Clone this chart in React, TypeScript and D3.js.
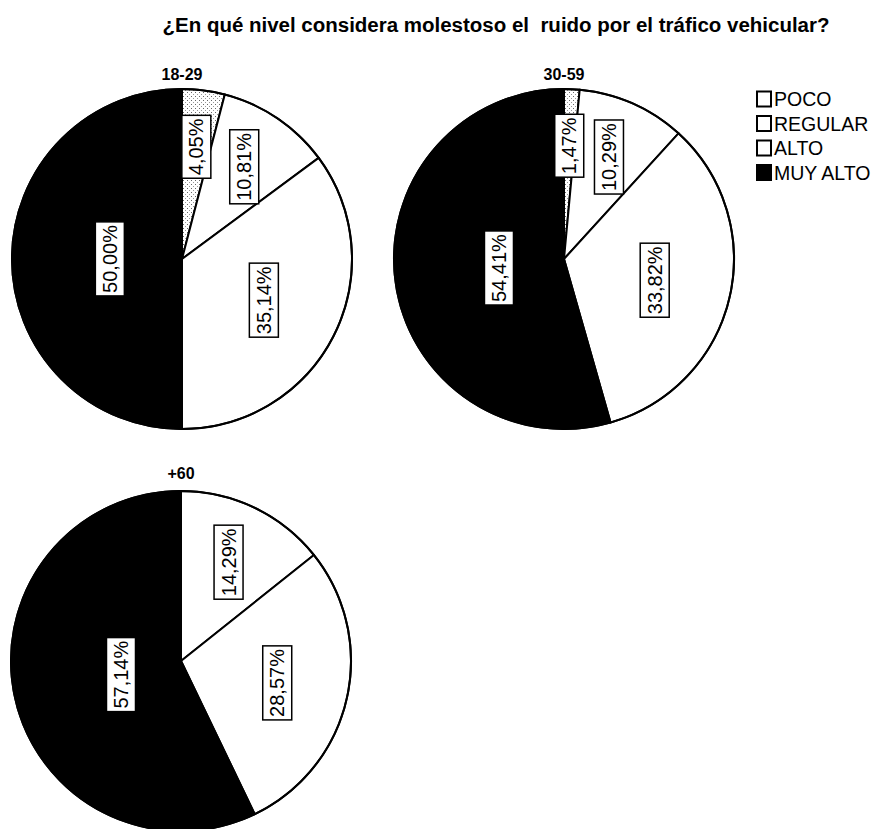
import React, { useEffect, useRef } from "react";
import * as d3 from "d3";

const title = "¿En qué nivel considera molestoso el  ruido por el tráfico vehicular?";
const categories = ["POCO", "REGULAR", "ALTO", "MUY ALTO"];
const groupNames = ["18-29", "30-59", "+60"];
const values1829 = [4.05, 10.81, 35.14, 50.0];
const values3059 = [1.47, 10.29, 33.82, 54.41];
const values60 = [0, 14.29, 28.57, 57.14];
const seriesValues = [values1829, values3059, values60];

const W = 882;
const H = 829;
const R = 170;
const centers: [number, number][] = [
  [182, 259],
  [564, 259],
  [181, 661],
];
const FONT = "'Liberation Sans', Arial, sans-serif";

const fmt = (v: number) => d3.format(".2f")(v).replace(".", ",") + "%";

export default function App() {
  const ref = useRef<SVGSVGElement | null>(null);

  useEffect(() => {
    const svg = d3.select(ref.current);
    svg.selectAll("*").remove();

    const defs = svg.append("defs");
    const pat = defs
      .append("pattern")
      .attr("id", "stipple")
      .attr("width", 4)
      .attr("height", 4)
      .attr("patternUnits", "userSpaceOnUse");
    pat.append("rect").attr("width", 4).attr("height", 4).attr("fill", "#fff");
    pat.append("rect").attr("x", 1).attr("y", 1).attr("width", 1).attr("height", 1).attr("fill", "#666");
    pat.append("rect").attr("x", 3).attr("y", 3).attr("width", 1).attr("height", 1).attr("fill", "#999");

    const color = d3
      .scaleOrdinal<string, string>()
      .domain(categories)
      .range(["url(#stipple)", "#ffffff", "#ffffff", "#000000"]);

    svg
      .append("text")
      .attr("x", 496)
      .attr("y", 32)
      .attr("text-anchor", "middle")
      .attr("textLength", 667)
      .attr("lengthAdjust", "spacingAndGlyphs")
      .style("font-family", FONT)
      .style("font-weight", "bold")
      .style("font-size", "19.5px")
      .style("white-space", "pre")
      .text(title);

    const pie = d3
      .pie<number>()
      .sort(null)
      .value((d) => d);
    const arc = d3.arc<d3.PieArcDatum<number>>().innerRadius(0).outerRadius(R);

    seriesValues.forEach((vals, gi) => {
      const [cx, cy] = centers[gi];
      const g = svg.append("g").attr("transform", `translate(${cx},${cy})`);
      const arcs = pie(vals);

      g.selectAll("path.slice")
        .data(arcs.filter((a) => a.value > 0))
        .join("path")
        .attr("class", "slice")
        .attr("d", arc as any)
        .attr("fill", (d) => color(categories[d.index]))
        .attr("stroke", "#000")
        .attr("stroke-width", 2)
        .attr("stroke-linejoin", "round");

      g.append("circle").attr("r", R).attr("fill", "none").attr("stroke", "#000").attr("stroke-width", 2);

      svg
        .append("text")
        .attr("x", cx)
        .attr("y", gi === 2 ? 479 : 80)
        .attr("text-anchor", "middle")
        .style("font-family", FONT)
        .style("font-weight", "bold")
        .style("font-size", "16px")
        .text(groupNames[gi]);

      arcs
        .filter((a) => a.value > 0)
        .forEach((a) => {
          const half = (a.endAngle - a.startAngle) / 2;
          const mid = a.startAngle + half;
          const dist = ((2 / 3) * R * Math.sin(half)) / half;
          const x = Math.sin(mid) * dist;
          const y = -Math.cos(mid) * dist;
          const lg = g.append("g").attr("transform", `translate(${x},${y}) rotate(-90)`);
          const rect = lg.append("rect");
          const t = lg
            .append("text")
            .attr("text-anchor", "middle")
            .attr("dominant-baseline", "central")
            .style("font-family", FONT)
            .style("font-size", "20px")
            .text(fmt(a.value));
          const bb = (t.node() as SVGTextElement).getBBox();
          const padX = 3;
          const h = 29;
          rect
            .attr("x", bb.x - padX)
            .attr("y", -h / 2)
            .attr("width", bb.width + padX * 2)
            .attr("height", h)
            .attr("fill", "#fff")
            .attr("stroke", "#000")
            .attr("stroke-width", 1.5);
        });
    });

    const legendY = [99, 123.5, 148, 172.5];
    const lg = svg.append("g");
    categories.forEach((c, i) => {
      lg.append("rect")
        .attr("x", 757)
        .attr("y", legendY[i] - 7.5)
        .attr("width", 14)
        .attr("height", 15)
        .attr("fill", i === 3 ? "#000" : "#fff")
        .attr("stroke", "#000")
        .attr("stroke-width", 2);
      lg.append("text")
        .attr("x", 774)
        .attr("y", legendY[i] + 7)
        .style("font-family", FONT)
        .style("font-size", "19.5px")
        .text(c);
    });
  }, []);

  return (
    <svg
      ref={ref}
      width={W}
      height={H}
      style={{ position: "absolute", left: 0, top: 0, background: "#fff" }}
    />
  );
}
